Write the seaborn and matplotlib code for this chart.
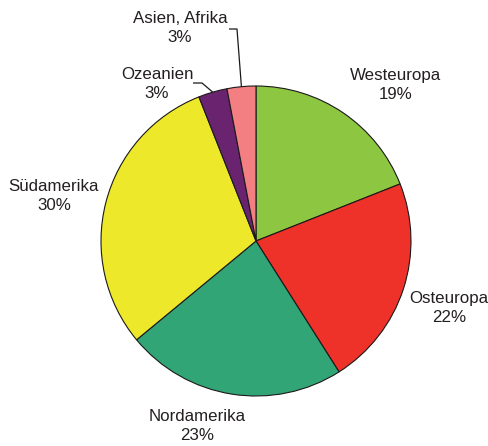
import numpy as np
import matplotlib
matplotlib.use("Agg")
import matplotlib.pyplot as plt
import seaborn as sns

# Regional shares (percent), clockwise from twelve o'clock
regions = ["Westeuropa", "Osteuropa", "Nordamerika", "Südamerika", "Ozeanien", "Asien, Afrika"]
shares = [19, 22, 23, 30, 3, 3]
colors = ["#8DC641", "#EE3129", "#32A577", "#EEE82A", "#6A246F", "#F37F82"]

sns.set_theme(style="white")
plt.rcParams["font.family"] = ["Liberation Sans", "DejaVu Sans"]

W, H, DPI = 488, 446, 100
fig = plt.figure(figsize=(W / DPI, H / DPI), dpi=DPI)
ax = fig.add_axes([0, 0, 1, 1])

# pie centre at (256, 241) px, radius 155 px
cx, cy, R = 256, 241, 155
wedges, _ = ax.pie(
    shares,
    colors=colors,
    startangle=90,
    counterclock=False,
    radius=1.0,
    wedgeprops=dict(edgecolor="#1a1a1a", linewidth=0.8),
)
ax.set_xlim(-cx / R, (W - cx) / R)
ax.set_ylim((cy - H) / R, cy / R)
ax.set_aspect("auto")
ax.axis("off")


def px(x, y):
    return (x - cx) / R, (cy - y) / R


# label anchors (px) for each region
label_px = [(396, 85), (449, 308), (197, 426), (54, 196), (157, 84), (180, 28)]
txt_color = "#231F20"
for name, val, (lx, ly) in zip(regions, shares, label_px):
    x, y = px(lx, ly)
    ax.text(x, y, f"{name}\n{val}%", ha="center", va="center",
            fontsize=12.2, color=txt_color, linespacing=1.38)

# leader lines for the two small slices
elbows = {4: [(202, 83), (193, 83)], 5: [(237, 29), (229, 29)]}
for i, pts in elbows.items():
    w = wedges[i]
    mid = np.deg2rad((w.theta1 + w.theta2) / 2)
    start = (np.cos(mid) * 1.0, np.sin(mid) * 1.0)
    xs = [start[0]] + [px(*p)[0] for p in pts]
    ys = [start[1]] + [px(*p)[1] for p in pts]
    ax.plot(xs, ys, color="#1a1a1a", linewidth=0.9, solid_capstyle="butt")

fig.savefig("out.png", dpi=DPI)
